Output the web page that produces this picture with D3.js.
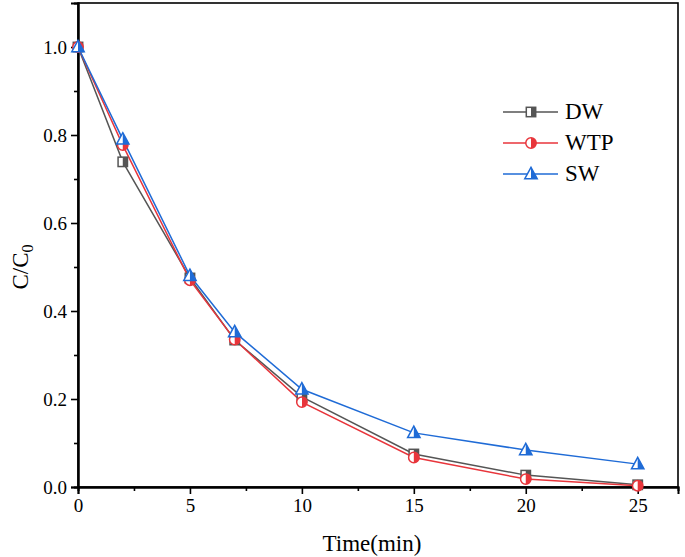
<!DOCTYPE html>
<html><head><meta charset="utf-8">
<script src="https://cdn.jsdelivr.net/npm/d3@7"></script>
<style>body{margin:0;background:#fff}svg{display:block}</style>
</head><body><svg id="c" width="685" height="557"></svg>
<script>
const times = [0, 2, 5, 7, 10, 15, 20, 25];
const dw  = [1.0, 0.739, 0.475, 0.334, 0.205, 0.075, 0.027, 0.005];
const wtp = [1.0, 0.777, 0.470, 0.335, 0.193, 0.067, 0.018, 0.003];
const sw  = [1.0, 0.790, 0.480, 0.352, 0.222, 0.123, 0.084, 0.052];
const seriesNames = ["DW", "WTP", "SW"];
const xTicks = [0, 5, 10, 15, 20, 25];
const yTicks = [0.0, 0.2, 0.4, 0.6, 0.8, 1.0];

const series = [
  {name: seriesNames[0], vals: dw, color: "#555555", shape: "square"},
  {name: seriesNames[1], vals: wtp, color: "#e8353b", shape: "circle"},
  {name: seriesNames[2], vals: sw, color: "#1f6bd6", shape: "triangle"}
];
const FONT = "'Liberation Serif', 'Times New Roman', serif";

const L = 78, R = 678, T = 3, B = 487;
const x = d3.scaleLinear().domain([0, 26.8]).range([L, R]);
const y = d3.scaleLinear().domain([0, 1.1]).range([B, T]);
const svg = d3.select("#c");

// frame
svg.append("rect").attr("x", L).attr("y", T).attr("width", R - L).attr("height", B - T)
  .attr("fill", "none").attr("stroke", "#000").attr("stroke-width", 1.6);

// axes
svg.append("g").attr("transform", `translate(0,${B})`)
  .call(d3.axisBottom(x).tickValues(xTicks).tickFormat(d3.format("d")).tickSize(7).tickPadding(5));
svg.append("g").attr("transform", `translate(0,${B})`)
  .call(d3.axisBottom(x).tickValues([2.5, 7.5, 12.5, 17.5, 22.5]).tickFormat("").tickSize(4));
svg.append("g").attr("transform", `translate(${L},0)`)
  .call(d3.axisLeft(y).tickValues(yTicks).tickFormat(d3.format(".1f")).tickSize(7).tickPadding(4));
svg.append("g").attr("transform", `translate(${L},0)`)
  .call(d3.axisLeft(y).tickValues([0.1, 0.3, 0.5, 0.7, 0.9]).tickFormat("").tickSize(4));
svg.selectAll(".domain").attr("stroke", "#000").attr("stroke-width", 2);
svg.selectAll(".tick line").attr("stroke", "#000").attr("stroke-width", 1.6);
svg.selectAll(".tick text").style("font-size", "19px").style("font-family", FONT).attr("fill", "#000");

// labels
svg.append("text").attr("x", (L + R) / 2 - 6).attr("y", 551).attr("text-anchor", "middle")
  .style("font-family", FONT).style("font-size", "23px").text("Time(min)");
const yl = svg.append("text").attr("transform", "translate(28,267) rotate(-90)").attr("text-anchor", "middle")
  .style("font-family", FONT).style("font-size", "23px");
yl.append("tspan").text("C/C");
yl.append("tspan").attr("dy", 5).style("font-size", "16px").text("0");

// markers
const S = 5.2;
function marker(g, shape, color, cx, cy) {
  const id = "clip" + Math.random().toString(36).slice(2);
  const cp = svg.append("clipPath").attr("id", id);
  cp.append("rect").attr("x", cx).attr("y", cy - 10).attr("width", 10).attr("height", 20);
  let make;
  if (shape === "square") make = (s) => s.append("rect").attr("x", cx - S + 0.5).attr("y", cy - S + 0.5).attr("width", 2 * S - 1).attr("height", 2 * S - 1);
  else if (shape === "circle") make = (s) => s.append("circle").attr("cx", cx).attr("cy", cy).attr("r", S);
  else make = (s) => s.append("path").attr("d", `M${cx},${cy - S - 1.5}L${cx + S + 1},${cy + S - 0.5}L${cx - S - 1},${cy + S - 0.5}Z`);
  make(g).attr("fill", "#fff").attr("stroke", color).attr("stroke-width", 1.5);
  make(g).attr("fill", color).attr("stroke", "none").attr("clip-path", `url(#${id})`);
}

const line = d3.line().x((d, i) => x(times[i])).y(d => y(d));
series.forEach(s => {
  svg.append("path").datum(s.vals).attr("d", line).attr("fill", "none")
    .attr("stroke", s.color).attr("stroke-width", 1.5);
});
series.forEach(s => {
  const g = svg.append("g");
  s.vals.forEach((v, i) => marker(g, s.shape, s.color, x(times[i]), y(v)));
});

// legend
series.forEach((s, i) => {
  const ly = 112 + i * 31;
  const g = svg.append("g");
  g.append("line").attr("x1", 503).attr("x2", 558).attr("y1", ly).attr("y2", ly)
    .attr("stroke", s.color).attr("stroke-width", 1.5);
  marker(g, s.shape, s.color, 531, ly);
  g.append("text").attr("x", 565).attr("y", ly + 7).style("font-family", FONT).style("font-size", "23px").text(s.name);
});
</script></body></html>
